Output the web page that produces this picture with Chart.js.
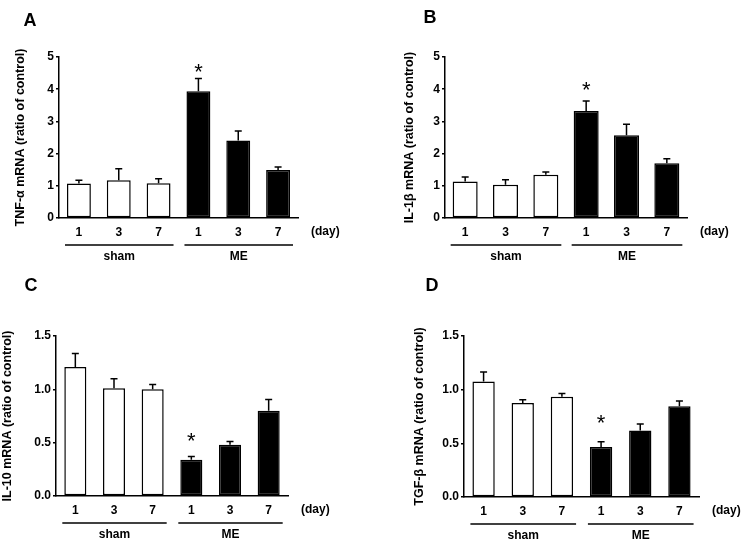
<!DOCTYPE html>
<html>
<head>
<meta charset="utf-8">
<script src="https://cdn.jsdelivr.net/npm/chart.js@4.4.1/dist/chart.umd.min.js"></script>
<style>
  body { margin: 0; background: #fff; }
  #wrap { position: relative; width: 744px; height: 545px; background: #fff; }
  #wrap canvas { position: absolute; }
</style>
</head>
<body>
<div id="wrap"></div>
<script>
// categorias y grupos
const days = ['1', '3', '7', '1', '3', '7'];
const groups = ['sham', 'ME'];
const barColors = ['#ffffff', '#ffffff', '#ffffff', '#000000', '#000000', '#000000'];

// valores (media y error)
const tnfMean = [1.07, 1.17, 1.08, 3.94, 2.41, 1.49];
const tnfErr = [0.10, 0.36, 0.14, 0.39, 0.29, 0.09];
const il1Mean = [1.13, 1.03, 1.34, 3.32, 2.57, 1.70];
const il1Err = [0.14, 0.16, 0.09, 0.31, 0.34, 0.14];
const il10Mean = [1.21, 1.01, 1.00, 0.34, 0.48, 0.80];
const il10Err = [0.125, 0.09, 0.045, 0.03, 0.03, 0.105];
const tgfMean = [1.075, 0.875, 0.935, 0.465, 0.62, 0.845];
const tgfErr = [0.09, 0.03, 0.03, 0.05, 0.06, 0.05];

// nivel del asterisco (en unidades del eje y)
const tnfStar = 4.72;
const il1Star = 4.16;
const il10Star = 0.57;
const tgfStar = 0.74;

const ticksAB = [0, 1, 2, 3, 4, 5];
const ticksCD = [0, 0.5, 1.0, 1.5];

Chart.defaults.font.family = '"Liberation Sans", Arial, Helvetica, sans-serif';
Chart.defaults.color = '#000';

const FONT = '"Liberation Sans", Arial, Helvetica, sans-serif';

// plugin: barras de error, asterisco, etiquetas de grupo
const extras = {
    id: 'extras',
    afterDatasetsDraw(chart) {
        const p = chart.options.plugins.extras;
        const ctx = chart.ctx;
        const meta = chart.getDatasetMeta(0);
        const y = chart.scales.y;
        const area = chart.chartArea;
        ctx.save();
        ctx.strokeStyle = '#000';
        ctx.fillStyle = '#000';
        ctx.lineWidth = 1.5;

        // barras de error (solo hacia arriba)
        meta.data.forEach((el, i) => {
            const yTop = y.getPixelForValue(p.mean[i] + p.err[i]);
            ctx.beginPath();
            ctx.moveTo(el.x, el.y);
            ctx.lineTo(el.x, yTop);
            ctx.moveTo(el.x - 3.5, yTop);
            ctx.lineTo(el.x + 3.5, yTop);
            ctx.stroke();
        });

        // asterisco
        const s = meta.data[3];
        const fs = 22;
        ctx.font = 'normal ' + fs + 'px ' + FONT;
        ctx.textAlign = 'center';
        ctx.textBaseline = 'alphabetic';
        ctx.fillText('*', s.x, y.getPixelForValue(p.star) + fs * 0.57);

        // (day)
        ctx.font = 'bold 12px ' + FONT;
        ctx.textAlign = 'left';
        ctx.textBaseline = 'middle';
        ctx.fillText('(day)', area.right + 13, area.bottom + 13.5);

        // lineas de grupo
        groups.forEach((g, gi) => {
            const a = meta.data[gi * 3];
            const b = meta.data[gi * 3 + 2];
            const x1 = a.x - a.width / 2 - 2;
            const x2 = b.x + b.width / 2 + 3;
            ctx.beginPath();
            ctx.moveTo(x1, area.bottom + 27);
            ctx.lineTo(x2, area.bottom + 27);
            ctx.stroke();
            ctx.textAlign = 'center';
            ctx.fillText(g, (x1 + x2) / 2, area.bottom + 39);
        });

        // letra del panel
        ctx.font = 'bold 18px ' + FONT;
        ctx.textAlign = 'center';
        ctx.fillText(p.letter, p.letterX, p.letterY);
        ctx.restore();
    }
};

function crearPanel(opt) {
    const cv = document.createElement('canvas');
    cv.width = 372;
    cv.height = 272;
    cv.style.left = opt.x + 'px';
    cv.style.top = opt.y + 'px';
    cv.style.width = '372px';
    cv.style.height = '272px';
    document.getElementById('wrap').appendChild(cv);

    new Chart(cv, {
        type: 'bar',
        data: {
            labels: days,
            datasets: [{
                data: opt.mean,
                backgroundColor: barColors,
                borderColor: '#000',
                borderWidth: 1.5,
                borderSkipped: false,
                barPercentage: opt.barPct,
                categoryPercentage: 1
            }]
        },
        options: {
            responsive: false,
            animation: false,
            layout: { padding: { left: 0, top: opt.top, right: 372 - opt.right, bottom: 0 } },
            plugins: {
                legend: { display: false },
                tooltip: { enabled: false },
                extras: {
                    mean: opt.mean, err: opt.err, star: opt.star,
                    letter: opt.letter, letterX: opt.letterX, letterY: opt.letterY
                }
            },
            scales: {
                x: {
                    offset: true,
                    grid: { display: false, drawTicks: false },
                    border: { display: true, color: '#000', width: 1.5 },
                    ticks: { padding: 7, maxRotation: 0, autoSkip: false, font: { size: 12, weight: 'bold' } },
                    afterFit(scale) { scale.height = 272 - opt.bottom; }
                },
                y: {
                    min: 0,
                    max: opt.tickVals[opt.tickVals.length - 1],
                    afterBuildTicks(scale) { scale.ticks = opt.tickVals.map(v => ({ value: v })); },
                    grid: { display: true, drawOnChartArea: false, drawTicks: true, tickLength: 3, color: '#000', lineWidth: 1.5 },
                    border: { display: true, color: '#000', width: 1.5 },
                    ticks: {
                        padding: 2,
                        font: { size: 12, weight: 'bold' },
                        callback: v => opt.decimals ? Number(v).toFixed(1) : String(v)
                    },
                    title: {
                        display: true,
                        text: opt.title,
                        font: { size: 12.5, weight: 'bold' },
                        padding: { top: opt.titlePad, bottom: 0 }
                    },
                    afterFit(scale) { scale.width = opt.left; }
                }
            }
        },
        plugins: [extras]
    });
}

crearPanel({ x: 0, y: 0, left: 59, top: 57, right: 298, bottom: 218, titlePad: 13,
    mean: tnfMean, err: tnfErr, star: tnfStar, tickVals: ticksAB, decimals: false, barPct: 0.6,
    title: 'TNF-α mRNA (ratio of control)', letter: 'A', letterX: 30, letterY: 21 });

crearPanel({ x: 372, y: 0, left: 73, top: 57, right: 315, bottom: 218, titlePad: 30,
    mean: il1Mean, err: il1Err, star: il1Star, tickVals: ticksAB, decimals: false, barPct: 0.62,
    title: 'IL-1β mRNA (ratio of control)', letter: 'B', letterX: 58, letterY: 18 });

crearPanel({ x: 0, y: 272, left: 56, top: 64, right: 288, bottom: 224, titlePad: 0,
    mean: il10Mean, err: il10Err, star: il10Star, tickVals: ticksCD, decimals: true, barPct: 0.57,
    title: 'IL-10 mRNA (ratio of control)', letter: 'C', letterX: 31, letterY: 14 });

crearPanel({ x: 372, y: 272, left: 92, top: 64, right: 327, bottom: 225, titlePad: 40,
    mean: tgfMean, err: tgfErr, star: tgfStar, tickVals: ticksCD, decimals: true, barPct: 0.57,
    title: 'TGF-β mRNA (ratio of control)', letter: 'D', letterX: 60, letterY: 14 });
</script>
</body>
</html>
